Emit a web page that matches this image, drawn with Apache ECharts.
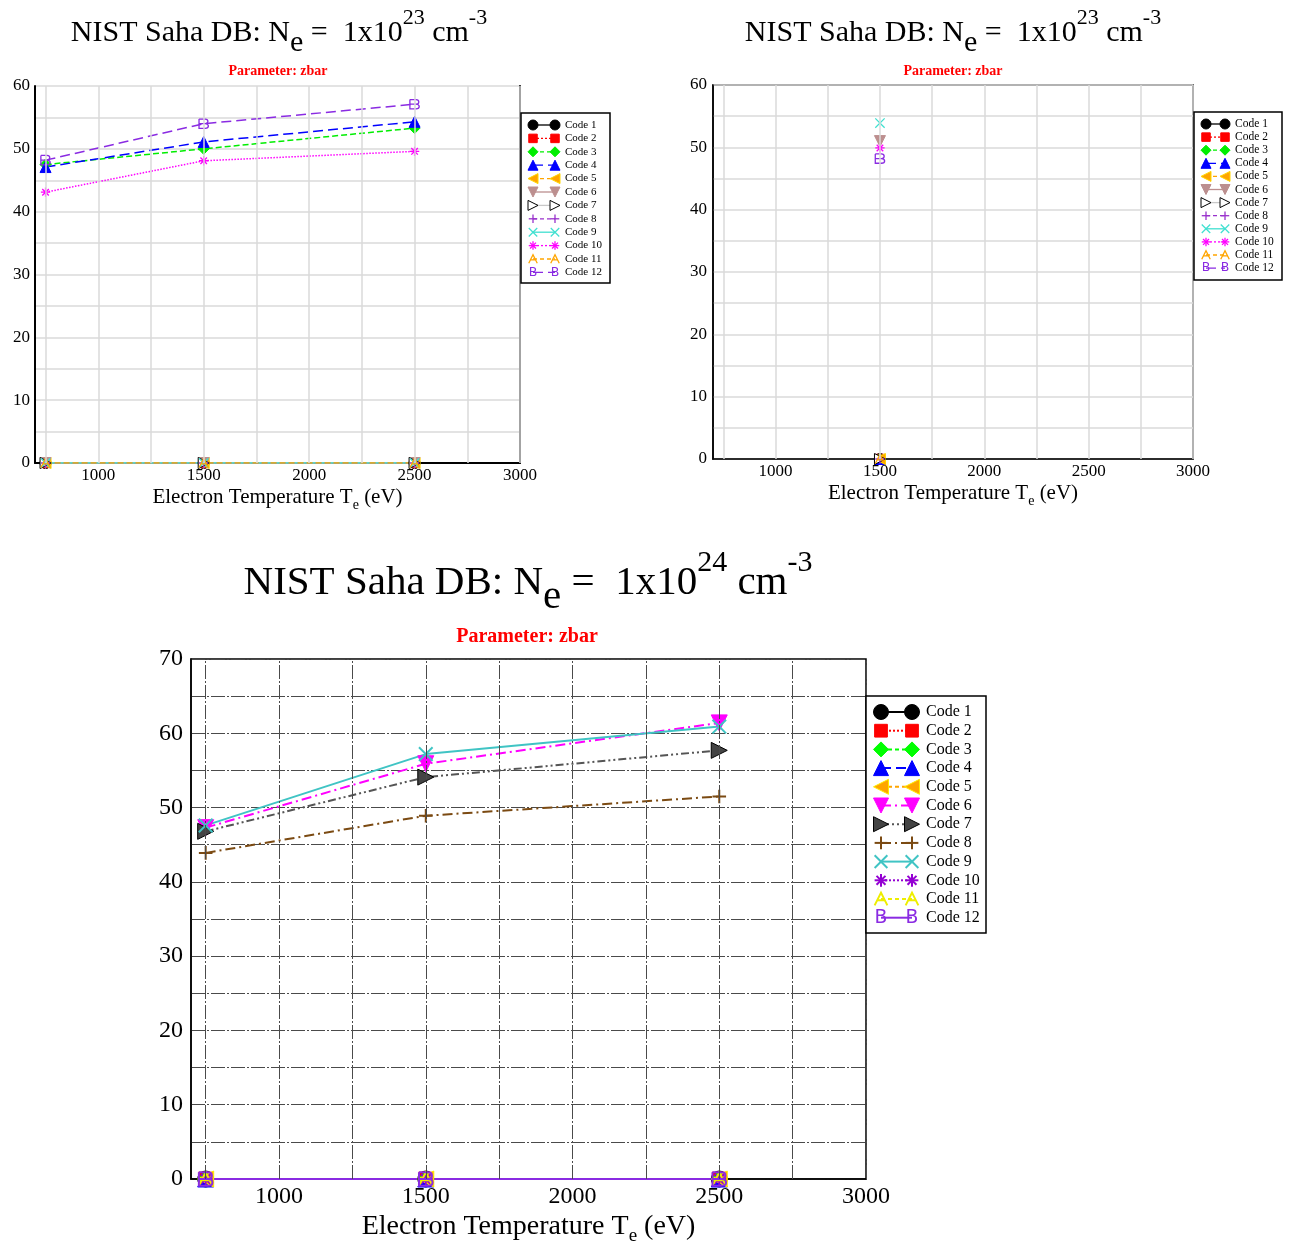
<!DOCTYPE html>
<html><head><meta charset="utf-8">
<script src="https://cdn.jsdelivr.net/npm/echarts@6/dist/echarts.min.js"></script>
<style>html,body{margin:0;padding:0;background:#fff;overflow:hidden;width:1293px;height:1247px}#c{position:absolute;left:0;top:0;width:1293px;height:1247px}</style>
</head><body><div id="c"></div>
<script>
// ---------------- DATA ----------------
const codeNames = ['Code 1','Code 2','Code 3','Code 4','Code 5','Code 6','Code 7','Code 8','Code 9','Code 10','Code 11','Code 12'];
// Electron temperatures (eV)
const tempsNe23Left = [750, 1500, 2500];
const tempsNe23Right = [1500];
const tempsNe24 = [750, 1500, 2500];
// zbar per code (rows: Code 1 .. Code 12)
const zbarNe23Left = [
  [0, 0, 0], [0, 0, 0], [47.5, 50.0, 53.3], [47.1, 51.1, 54.3],
  [0, 0, 0], [0, 0, 0], [0, 0, 0], [0, 0, 0],
  [0, 0, 0], [43.1, 48.1, 49.6], [0, 0, 0], [48.2, 54.0, 57.1]
];
const zbarNe23Right = [
  [0], [0], [0], [0], [0], [51.0], [0], [0], [53.9], [49.9], [0], [48.2]
];
const zbarNe24 = [
  [0, 0, 0], [0, 0, 0], [0, 0, 0], [0, 0, 0], [0, 0, 0],
  [47.3, 55.9, 61.4], [46.8, 54.1, 57.7], [43.9, 48.9, 51.5], [47.6, 57.2, 60.9],
  [0, 0, 0], [0, 0, 0], [0, 0, 0]
];
const xTickLabels = [1000, 1500, 2000, 2500, 3000];
const xGridValues = [750, 1000, 1250, 1500, 1750, 2000, 2250, 2500, 2750, 3000];

// ---------------- STYLES ----------------
const F = '"Liberation Serif","Times New Roman",serif';
const P = {
  plus: 'M5,0L5,10M0,5L10,5',
  cross: 'M0,0L10,10M0,10L10,0',
  ast: 'M5,0L5,10M0,5L10,5M1.5,1.5L8.5,8.5M1.5,8.5L8.5,1.5',
  A: 'M0,10L5,0L10,10M2,6L8,6',
  B: 'M1,0L1,10L6,10C9.5,10 9.5,5 6,5L1,5M6,5C9,5 9,0 6,0L1,0'
};
// segment versions for legend drawing (0..10 box)
const SEG = {
  plus: [[[5,0],[5,10]], [[0,5],[10,5]]],
  cross: [[[0,0],[10,10]], [[0,10],[10,0]]],
  ast: [[[5,0],[5,10]], [[0,5],[10,5]], [[1.5,1.5],[8.5,8.5]], [[1.5,8.5],[8.5,1.5]]],
  A: [[[0,10],[5,0],[10,10]], [[2,6],[8,6]]]
};
const DD = [10, 4, 2, 4];
const DDD = [8, 3, 2, 3, 2, 3];
const styleTop = [
  {c:'#000000', sym:'circle', dash:'solid'},
  {c:'#ff0000', sym:'rect', dash:'dotted'},
  {c:'#00ee00', sym:'diamond', dash:'dashed'},
  {c:'#0000ff', sym:'triangle', dash:[10,5]},
  {c:'#ffa500', bc:'#ffd700', sym:'triangle', rot:90, dash:'dashed'},
  {c:'#bc8f8f', sym:'triangle', rot:180, dash:'solid'},
  {c:'#000000', fill:'#ffffff', lc:'#c8c8c8', sym:'triangle', rot:-90, dash:'solid'},
  {c:'#9932cc', sym:'plus', dash:'dashed'},
  {c:'#40e0d0', sym:'cross', dash:'solid'},
  {c:'#ff00ff', sym:'ast', dash:'dotted'},
  {c:'#ffa500', sym:'A', dash:'dashed'},
  {c:'#8a2be2', sym:'B', dash:[10,5]}
];
const styleBottom = [
  {c:'#000000', sym:'circle', dash:'solid'},
  {c:'#ff0000', sym:'rect', dash:'dotted'},
  {c:'#00ff00', sym:'diamond', dash:'dashed'},
  {c:'#0000ff', sym:'triangle', dash:[10,5]},
  {c:'#ffa500', bc:'#ffee00', sym:'triangle', rot:90, dash:'dashed'},
  {c:'#ff00ff', sym:'triangle', rot:180, dash:DD},
  {c:'#000000', fill:'#444444', lc:'#555555', sym:'triangle', rot:-90, dash:DDD},
  {c:'#7b4a12', sym:'plus', dash:DD},
  {c:'#40c4c4', sym:'cross', dash:'solid'},
  {c:'#9400d3', sym:'ast', dash:'dotted'},
  {c:'#eeee00', sym:'A', dash:'dashed'},
  {c:'#8a2be2', sym:'B', dash:'solid'}
];
const isStroke = s => !!P[s.sym];

// ---------------- BUILD ----------------
const series = [];
function addPanel(k, temps, vals, styles, o) {
  // vertical gridlines through library scale
  series.push({
    type:'line', xAxisIndex:k, yAxisIndex:k, data:[], z:1, silent:true,
    markLine:{silent:true, symbol:['none','none'], label:{show:false}, animation:false,
      lineStyle:o.grid, data: xGridValues.map(v => ({xAxis:v}))}
  });
  styles.forEach((s, i) => {
    series.push({
      name: codeNames[i], type:'line', xAxisIndex:k, yAxisIndex:k, z:3,
      data: temps.map((t, j) => [t, vals[i][j]]),
      symbol: isStroke(s) ? 'path://' + P[s.sym] : s.sym,
      symbolSize: isStroke(s) ? o.sym * 0.85 : (s.sym === 'rect' ? o.sym * 0.85 : o.sym),
      symbolRotate: s.rot || 0,
      lineStyle:{color: s.lc || s.c, width: o.lw, type: s.dash},
      itemStyle: isStroke(s)
        ? {color:'rgba(0,0,0,0)', borderColor:s.c, borderWidth:o.sw}
        : {color: s.fill || s.c, borderColor: s.bc || s.c, borderWidth: 1}
    });
  });
}
const gridTop = {color:'#dadada', width:1.5, type:'solid'};
const gridBot = {color:'#4a4a4a', width:1, type:[14,2,2,2]};
addPanel(0, tempsNe23Left, zbarNe23Left, styleTop, {sym:11, lw:1.5, sw:1.3, grid:gridTop});
addPanel(1, tempsNe23Right, zbarNe23Right, styleTop, {sym:11, lw:1.5, sw:1.3, grid:gridTop});
addPanel(2, tempsNe24, zbarNe24, styleBottom, {sym:16, lw:2, sw:2, grid:gridBot});

function xAxis(k, fs, nfs, gap, margin, lw) {
  return {
    type:'value', gridIndex:k, min:700, max:3000, interval:100,
    axisLine:{show:true, onZero:false, lineStyle:{color:'#000', width:lw}},
    axisTick:{show:false}, splitLine:{show:false},
    axisLabel:{margin, fontFamily:F, fontSize:fs, color:'#000',
      formatter: v => xTickLabels.includes(v) ? String(v) : ''},
    name:'{n|Electron Temperature T}{s|e}{n| (eV)}', nameLocation:'middle', nameGap:gap,
    nameTextStyle:{rich:{
      n:{fontFamily:F, fontSize:nfs, color:'#000'},
      s:{fontFamily:F, fontSize:Math.round(nfs*0.68), color:'#000', padding:[Math.round(nfs*0.7),0,0,0]}
    }}
  };
}
function yAxis(k, max, fs, margin, lw, grid) {
  return {
    type:'value', gridIndex:k, min:0, max, interval:10,
    axisLine:{show:true, onZero:false, lineStyle:{color:'#000', width:lw}},
    axisTick:{show:false},
    axisLabel:{margin, fontFamily:F, fontSize:fs, color:'#000'},
    splitLine:{show:true, lineStyle:grid},
    minorTick:{show:false, splitNumber:2},
    minorSplitLine:{show:true, lineStyle:grid}
  };
}

function titleEl(x, y, s, sup) {
  const ss = Math.round(s * 0.72);
  return {
    type:'text', x, y, silent:true,
    style:{
      text:'{m|NIST Saha DB: N}{s|e}{m| =  1x10}{p|' + sup + '}{m| cm}{p|-3}',
      align:'center', verticalAlign:'middle',
      rich:{
        m:{fontFamily:F, fontSize:s, fill:'#000'},
        s:{fontFamily:F, fontSize:s, fill:'#000', padding:[Math.round(s*0.68),0,0,0]},
        p:{fontFamily:F, fontSize:ss, fill:'#000', padding:[0,0,Math.round(s*0.95),0]}
      }
    }
  };
}
function subEl(x, y, s) {
  return {type:'text', x, y, silent:true,
    style:{text:'Parameter: zbar', align:'center', verticalAlign:'middle',
      fontFamily:F, fontSize:s, fontWeight:'bold', fill:'#ff0000'}};
}
function symEls(s, cx, cy, size, sw) {
  const h = size / 2;
  const fill = s.fill || s.c, stroke = s.bc || s.c;
  if (s.sym === 'B') {
    return [{type:'text', silent:true, x:cx, y:cy,
      style:{text:'B', fontFamily:'"DejaVu Sans",sans-serif', fontSize:size*1.25, fill:s.c, align:'center', verticalAlign:'middle'}}];
  }
  if (SEG[s.sym]) {
    const hs = h * 0.85, k = 2 * hs / 10;
    return SEG[s.sym].map(seg => ({type:'polyline', silent:true,
      shape:{points: seg.map(p => [cx - hs + p[0]*k, cy - hs + p[1]*k])},
      style:{fill:'none', stroke:s.c, lineWidth:sw}}));
  }
  if (s.sym === 'circle') return [{type:'circle', silent:true, shape:{cx, cy, r:h}, style:{fill, stroke, lineWidth:1}}];
  if (s.sym === 'rect') { const r = h*0.85; return [{type:'rect', silent:true, shape:{x:cx-r, y:cy-r, width:2*r, height:2*r}, style:{fill, stroke, lineWidth:1}}]; }
  let pts;
  if (s.sym === 'diamond') pts = [[cx,cy-h],[cx+h,cy],[cx,cy+h],[cx-h,cy]];
  else if (s.rot === 90) pts = [[cx-h,cy],[cx+h,cy-h],[cx+h,cy+h]];
  else if (s.rot === 180) pts = [[cx,cy+h],[cx-h,cy-h],[cx+h,cy-h]];
  else if (s.rot === -90) pts = [[cx+h,cy],[cx-h,cy-h],[cx-h,cy+h]];
  else pts = [[cx,cy-h],[cx+h,cy+h],[cx-h,cy+h]];
  return [{type:'polygon', silent:true, shape:{points:pts}, style:{fill, stroke, lineWidth:1}}];
}
function dashArr(d) {
  if (Array.isArray(d)) return d;
  if (d === 'dashed') return [4, 3];
  if (d === 'dotted') return [2, 2];
  return null;
}
function legendEls(styles, o) {
  const els = [{type:'rect', silent:true, z:10, shape:{x:o.bx, y:o.by, width:o.bw, height:o.bh},
    style:{fill:'#fff', stroke:'#000', lineWidth:1.5}}];
  styles.forEach((s, i) => {
    const y = o.y0 + i * o.dy;
    const ln = {type:'line', silent:true, z:11, shape:{x1:o.x1, y1:y, x2:o.x2, y2:y},
      style:{stroke:s.lc || s.c, lineWidth:o.lw}};
    const da = dashArr(s.dash);
    if (da) ln.style.lineDash = da;
    els.push(ln);
    symEls(s, o.x1, y, o.sym, o.sw).concat(symEls(s, o.x2, y, o.sym, o.sw)).forEach(e => { e.z = 12; els.push(e); });
    els.push({type:'text', silent:true, z:12, x:o.tx, y,
      style:{text:codeNames[i], fontFamily:F, fontSize:o.fs, fill:'#000', verticalAlign:'middle', align:'left'}});
  });
  return els;
}

const graphic = [
  titleEl(279, 33, 30, '23'), subEl(278, 71, 14),
  titleEl(953, 33, 30, '23'), subEl(953, 71, 14),
  titleEl(528, 583, 41, '24'), subEl(527, 637, 20),
  ...legendEls(styleTop, {bx:521, by:113, bw:89, bh:170, y0:125, dy:13.4, x1:533, x2:555, tx:565, sym:10, sw:1.3, lw:1.3, fs:11}),
  ...legendEls(styleTop, {bx:1194, by:112, bw:88, bh:168, y0:124, dy:13.1, x1:1206, x2:1225, tx:1235, sym:10, sw:1.3, lw:1.3, fs:11.5}),
  ...legendEls(styleBottom, {bx:866, by:696, bw:120, bh:237, y0:712, dy:18.7, x1:881, x2:912, tx:926, sym:15, sw:2, lw:2, fs:16})
];

const chart = echarts.init(document.getElementById('c'), null, {renderer:'canvas', width:1293, height:1247});
chart.setOption({
  animation:false,
  backgroundColor:'#ffffff',
  grid:[
    {left:35, top:86, width:485, height:377, show:false},
    {left:713, top:85, width:480, height:374, show:true, borderColor:'#000', borderWidth:1.5, backgroundColor:'transparent'},
    {left:191, top:659, width:675, height:525, show:true, borderColor:'#000', borderWidth:1.5, backgroundColor:'transparent'}
  ],
  xAxis:[xAxis(0, 17, 21, 20, 4, 2), xAxis(1, 17, 21, 20, 4, 1.5), xAxis(2, 24, 28, 28, 6, 1.5)],
  yAxis:[
    yAxis(0, 60, 17, 5, 2, gridTop), yAxis(1, 60, 17, 6, 1.5, gridTop), yAxis(2, 70, 24, 8, 1.5, gridBot),
    {type:'value', gridIndex:0, position:'right', min:0, max:60, axisLine:{show:true, lineStyle:{color:'#000', width:2}},
     axisTick:{show:false}, axisLabel:{show:false}, splitLine:{show:false}}
  ],
  series,
  graphic
});
</script></body></html>
